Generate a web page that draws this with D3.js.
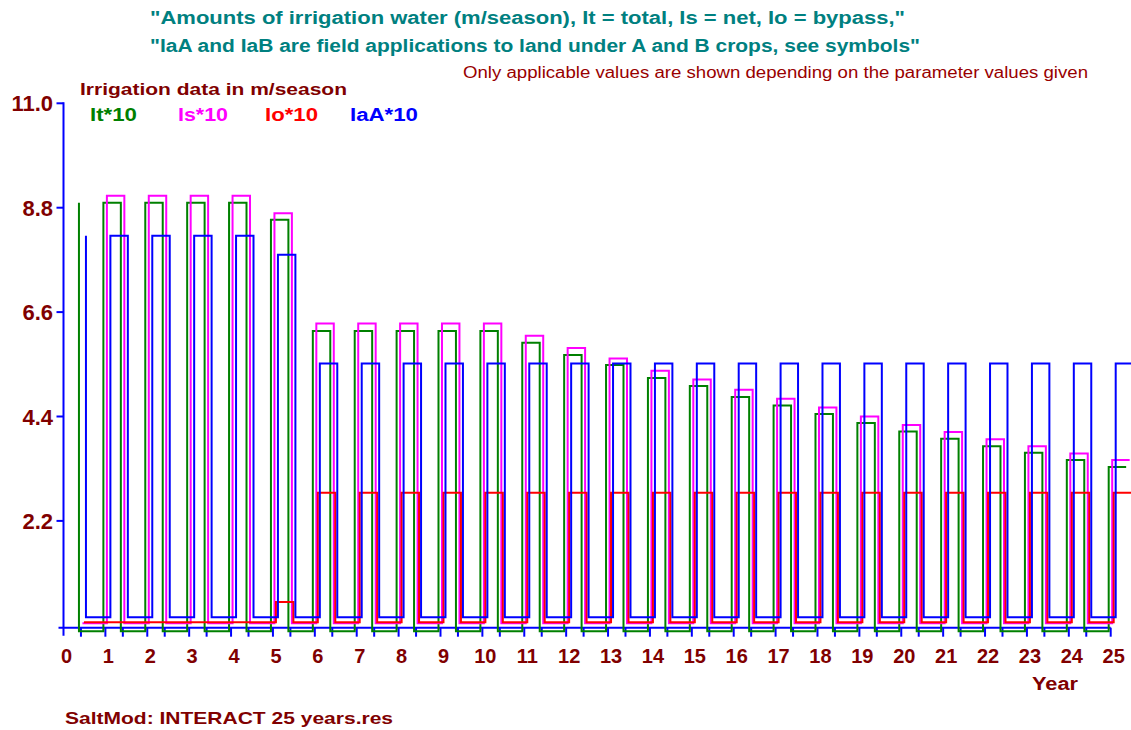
<!DOCTYPE html>
<html lang="en">
<head>
    <meta charset="UTF-8">
    <title>SaltMod irrigation data</title>
    <script src="https://d3js.org/d3.v7.min.js"></script>
    <style>
        body {
            margin: 0;
            padding: 0;
            background: #fff;
        }
        svg text {
            font-family: "Liberation Sans", Arial, sans-serif;
        }
    </style>
</head>
<body>
    <div id="chart"></div>

    <script>
        // season A covers the first 5 months of each year, season B the rest
        const seasonA = 5 / 12;
        const yearLabels = d3.range(0, 26);
        const yTicks = [2.2, 4.4, 6.6, 8.8, 11.0];

        // season A values, years 1..26 (value*10)
        const itA = [9.03, 9.03, 9.03, 9.03, 9.03, 8.67, 6.33, 6.33, 6.33, 6.33, 6.33, 6.08, 5.82,
                     5.61, 5.34, 5.17, 4.94, 4.76, 4.58, 4.39, 4.21, 4.06, 3.90, 3.76, 3.61, 3.46];
        const isA = [0, 9.01, 9.01, 9.01, 9.01, 8.64, 6.32, 6.32, 6.32, 6.32, 6.32, 6.06, 5.80,
                     5.58, 5.32, 5.14, 4.92, 4.73, 4.55, 4.36, 4.18, 4.03, 3.88, 3.73, 3.58, 3.44];
        const ioA = [0, 0, 0, 0, 0, 0.43, 2.73, 2.73, 2.73, 2.73, 2.73, 2.73, 2.73,
                     2.73, 2.73, 2.73, 2.73, 2.73, 2.73, 2.73, 2.73, 2.73, 2.73, 2.73, 2.73, 2.73];
        const iaA = [8.04, 8.04, 8.04, 8.04, 8.04, 7.64, 5.35, 5.35, 5.35, 5.35, 5.35, 5.35, 5.35,
                     5.35, 5.35, 5.35, 5.35, 5.35, 5.35, 5.35, 5.35, 5.35, 5.35, 5.35, 5.35, 5.35];

        // season B values, years 1..25
        const itB = [0, 0, 0, 0, 0, 0, 0, 0, 0, 0, 0, 0, 0, 0, 0, 0, 0, 0, 0, 0, 0, 0, 0, 0, 0];
        const isB = [0, 0, 0, 0, 0, 0, 0, 0, 0, 0, 0, 0, 0, 0, 0, 0, 0, 0, 0, 0, 0, 0, 0, 0, 0];
        const ioB = [0, 0, 0, 0, 0, 0, 0, 0, 0, 0, 0, 0, 0, 0, 0, 0, 0, 0, 0, 0, 0, 0, 0, 0, 0];
        const iaB = [0, 0, 0, 0, 0, 0, 0, 0, 0, 0, 0, 0, 0, 0, 0, 0, 0, 0, 0, 0, 0, 0, 0, 0, 0];

        const seriesNames = ["It*10", "Is*10", "Io*10", "IaA*10"];

        const width = 1131, height = 730;
        const maroon = "#800000";

        const svg = d3.select("#chart")
            .append("svg")
            .attr("width", width)
            .attr("height", height);

        const x = d3.scaleLinear().domain([0, 25]).range([63.5, 1110.7]);
        const y = d3.scaleLinear().domain([0, 11]).range([625.3, 103.3]);

        // each curve is nudged a few pixels so overlapping lines stay visible
        const series = [
            { name: seriesNames[0], a: itA, b: itB, color: "#008000", dx: -2, dy: 6, lx: 90, lw: 47 },
            { name: seriesNames[1], a: isA, b: isB, color: "#ff00ff", dx: 1.5, dy: -2, lx: 178, lw: 50 },
            { name: seriesNames[2], a: ioA, b: ioB, color: "#ff0000", dx: 3, dy: -3, lx: 265, lw: 53 },
            { name: seriesNames[3], a: iaA, b: iaB, color: "#0000ff", dx: 5, dy: -8, lx: 350, lw: 68 }
        ];

        function seasonPoints(a, b) {
            const pts = [];
            b.forEach((v, i) => {
                pts.push([i + seasonA, a[i]]);
                pts.push([i + 1, v]);
            });
            pts.push([b.length + seasonA, a[b.length]]);
            return pts;
        }

        const line = d3.line()
            .x(d => x(d[0]))
            .y(d => y(d[1]))
            .curve(d3.curveStepBefore);

        // Axes
        const axisY = y(0) + 2.4;
        const axisG = svg.append("g")
            .attr("stroke", "#0000ff")
            .attr("stroke-width", 2);

        axisG.append("line")
            .attr("x1", x(0) - 5).attr("x2", x(25))
            .attr("y1", axisY).attr("y2", axisY);
        axisG.append("line")
            .attr("x1", x(0)).attr("x2", x(0))
            .attr("y1", y(11) - 1).attr("y2", axisY + 8);

        const seasonTicks = [];
        d3.range(0, 25).forEach(k => { seasonTicks.push(k + seasonA, k + 1); });
        axisG.selectAll(".xtick")
            .data(seasonTicks)
            .enter()
            .append("line")
            .attr("x1", d => x(d)).attr("x2", d => x(d))
            .attr("y1", axisY).attr("y2", axisY + 9);

        axisG.selectAll(".ytick")
            .data(yTicks)
            .enter()
            .append("line")
            .attr("x1", x(0) - 7).attr("x2", x(0))
            .attr("y1", d => y(d)).attr("y2", d => y(d));

        // Series lines
        series.forEach(s => {
            svg.append("path")
                .datum(seasonPoints(s.a, s.b))
                .attr("transform", `translate(${s.dx},${s.dy})`)
                .attr("fill", "none")
                .attr("stroke", s.color)
                .attr("stroke-width", 2)
                .attr("d", line);
        });

        // Tick labels
        svg.selectAll(".ylab")
            .data(yTicks)
            .enter()
            .append("text")
            .attr("x", 53)
            .attr("y", d => y(d) + 8)
            .attr("text-anchor", "end")
            .attr("font-size", 22)
            .attr("font-weight", "bold")
            .attr("fill", maroon)
            .text(d => d.toFixed(1));

        svg.selectAll(".xlab")
            .data(yearLabels)
            .enter()
            .append("text")
            .attr("x", d => x(d) + 3)
            .attr("y", 663)
            .attr("text-anchor", "middle")
            .attr("font-size", 20)
            .attr("font-weight", "bold")
            .attr("fill", maroon)
            .text(d => d);

        svg.append("text")
            .attr("x", 1032).attr("y", 690)
            .attr("font-size", 18).attr("font-weight", "bold")
            .attr("fill", maroon)
            .attr("textLength", 46).attr("lengthAdjust", "spacingAndGlyphs")
            .text("Year");

        // Titles
        svg.append("text")
            .attr("x", 150).attr("y", 24)
            .attr("font-size", 18).attr("font-weight", "bold")
            .attr("fill", "#008080")
            .attr("textLength", 755).attr("lengthAdjust", "spacingAndGlyphs")
            .text("\"Amounts of irrigation water (m/season), It = total, Is = net, Io = bypass,\"");

        svg.append("text")
            .attr("x", 150).attr("y", 52)
            .attr("font-size", 18).attr("font-weight", "bold")
            .attr("fill", "#008080")
            .attr("textLength", 770).attr("lengthAdjust", "spacingAndGlyphs")
            .text("\"IaA and IaB are field applications to land under A and B crops, see symbols\"");

        svg.append("text")
            .attr("x", 463).attr("y", 78)
            .attr("font-size", 16)
            .attr("fill", "#990000")
            .attr("textLength", 625).attr("lengthAdjust", "spacingAndGlyphs")
            .text("Only applicable values are shown depending on the parameter values given");

        svg.append("text")
            .attr("x", 80).attr("y", 95)
            .attr("font-size", 17).attr("font-weight", "bold")
            .attr("fill", maroon)
            .attr("textLength", 267).attr("lengthAdjust", "spacingAndGlyphs")
            .text("Irrigation data in m/season");

        // Legend
        svg.selectAll(".legend")
            .data(series)
            .enter()
            .append("text")
            .attr("x", d => d.lx)
            .attr("y", 121)
            .attr("font-size", 18).attr("font-weight", "bold")
            .attr("fill", d => d.color)
            .attr("textLength", d => d.lw).attr("lengthAdjust", "spacingAndGlyphs")
            .text(d => d.name);

        svg.append("text")
            .attr("x", 65).attr("y", 724)
            .attr("font-size", 17).attr("font-weight", "bold")
            .attr("fill", maroon)
            .attr("textLength", 328).attr("lengthAdjust", "spacingAndGlyphs")
            .text("SaltMod: INTERACT 25 years.res");
    </script>
</body>
</html>
